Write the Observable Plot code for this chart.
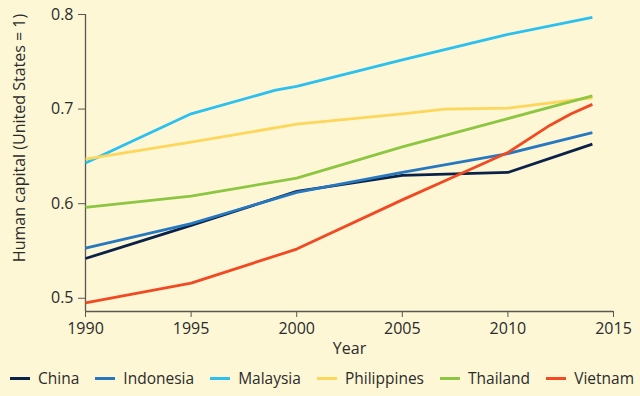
<!DOCTYPE html>
<html>
<head>
<meta charset="utf-8">
<script src="https://cdn.jsdelivr.net/npm/d3@7"></script>
<script src="https://cdn.jsdelivr.net/npm/@observablehq/plot@0.6"></script>
<style>
  html, body { margin: 0; padding: 0; background: #fdf7d6; }
  body { width: 640px; height: 396px; overflow: hidden; font-family: "Open Sans", sans-serif; }
  #legend { display: flex; justify-content: space-between; align-items: center; height: 36px; padding: 0 6px 0 10px; box-sizing: border-box; font-size: 15.5px; color: #2b2b2b; }
  #legend .item { display: flex; align-items: center; white-space: nowrap; }
  #legend .sw { width: 20px; height: 3px; margin-right: 8px; }
</style>
</head>
<body>
<div id="chart"></div>
<div id="legend"></div>
<script>
const countries = ["China", "Indonesia", "Malaysia", "Philippines", "Thailand", "Vietnam"];
const colors = ["#0b2248", "#2878c0", "#2cc0ef", "#fdd65c", "#8dc641", "#f14a22"];

const chinaYears = [1990, 1995, 2000, 2005, 2010, 2014];
const chinaValues = [0.542, 0.577, 0.613, 0.630, 0.633, 0.663];
const indonesiaYears = [1990, 1995, 2000, 2005, 2010, 2014];
const indonesiaValues = [0.553, 0.579, 0.612, 0.633, 0.653, 0.675];
const malaysiaYears = [1990, 1995, 1999, 2000, 2005, 2010, 2014];
const malaysiaValues = [0.643, 0.695, 0.720, 0.724, 0.752, 0.779, 0.797];
const philippinesYears = [1990, 1995, 2000, 2005, 2007, 2010, 2014];
const philippinesValues = [0.647, 0.665, 0.684, 0.695, 0.700, 0.701, 0.712];
const thailandYears = [1990, 1995, 2000, 2005, 2010, 2014];
const thailandValues = [0.596, 0.608, 0.627, 0.660, 0.690, 0.714];
const vietnamYears = [1990, 1995, 2000, 2005, 2007, 2010, 2012, 2013, 2014];
const vietnamValues = [0.495, 0.516, 0.552, 0.604, 0.624, 0.654, 0.683, 0.695, 0.705];

const xTicks = [1990, 1995, 2000, 2005, 2010, 2015];
const yTicks = [0.5, 0.6, 0.7, 0.8];
const xDomain = [1990, 2015];
const yDomain = [0.486, 0.8];

const series = [
  [chinaYears, chinaValues], [indonesiaYears, indonesiaValues], [malaysiaYears, malaysiaValues],
  [philippinesYears, philippinesValues], [thailandYears, thailandValues], [vietnamYears, vietnamValues]
];
const data = series.flatMap(([ys, vs], i) => ys.map((y, j) => ({country: countries[i], year: y, value: vs[j]})));

const axisColor = "#5a5750";
const chart = Plot.plot({
  width: 640,
  height: 360,
  marginLeft: 85,
  marginRight: 27,
  marginTop: 14,
  marginBottom: 49,
  style: {background: "transparent", fontFamily: "'Open Sans', sans-serif", fontSize: "16px", color: "#2b2b2b"},
  x: {domain: xDomain},
  y: {domain: yDomain},
  color: {domain: countries, range: colors},
  marks: [
    Plot.axisX({ticks: xTicks, tickFormat: d => String(d), tickSize: 6, tickPadding: 5, stroke: axisColor, label: "Year", labelAnchor: "center", labelOffset: 42, labelArrow: false, fontSize: 16}),
    Plot.axisY({ticks: yTicks, tickFormat: d => d.toFixed(1), tickSize: 7, tickPadding: 5, stroke: axisColor, label: null, fontSize: 16}),
    Plot.ruleX([xDomain[0]], {stroke: axisColor, strokeWidth: 1.3}),
    Plot.ruleY([yDomain[0]], {stroke: axisColor, strokeWidth: 1.3}),
    Plot.text(["Human capital (United States = 1)"], {frameAnchor: "left", rotate: -90, dx: -66, dy: -25, fontSize: 16, fill: "#2b2b2b", textAnchor: "middle"}),
    Plot.line(data, {x: "year", y: "value", z: "country", stroke: "country", strokeWidth: 2.8, strokeLinejoin: "round", strokeLinecap: "butt"})
  ]
});
document.getElementById("chart").appendChild(chart);

const legend = document.getElementById("legend");
countries.forEach((c, i) => {
  const item = document.createElement("div");
  item.className = "item";
  const sw = document.createElement("span");
  sw.className = "sw";
  sw.style.background = colors[i];
  const t = document.createElement("span");
  t.textContent = c;
  item.appendChild(sw);
  item.appendChild(t);
  legend.appendChild(item);
});
</script>
</body>
</html>
